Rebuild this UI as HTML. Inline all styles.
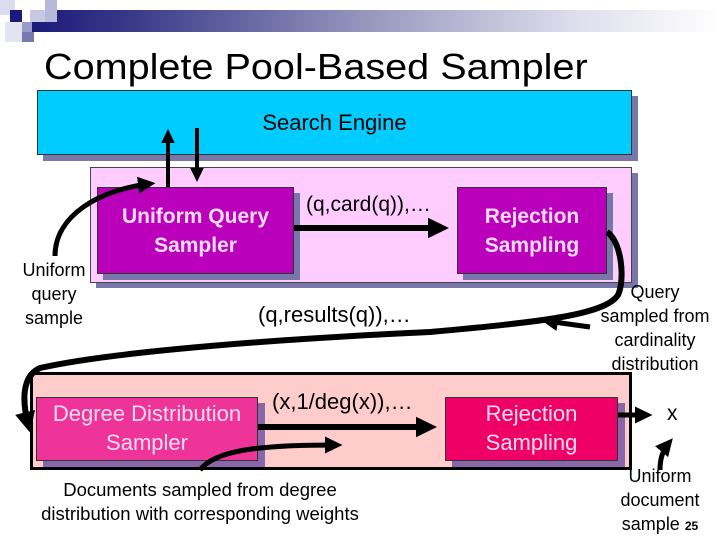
<!DOCTYPE html>
<html><head><meta charset="utf-8"><style>
body{margin:0;width:720px;height:540px;overflow:hidden;background:#fff;font-family:"Liberation Sans",sans-serif;position:relative}
.a{position:absolute}
.t{position:absolute;text-align:center;white-space:nowrap}
</style></head><body>
<div class="a" style="left:30px;top:10px;width:690px;height:22px;background:linear-gradient(90deg,#1a1a7a 0%,#3a3a8a 15%,#9a9ac0 50%,#e0e0ee 80%,#fff 100%)"></div>
<div class="a" style="left:0;top:0;width:15px;height:15px;background:#dcdcee"></div>
<div class="a" style="left:10px;top:10px;width:12px;height:12px;background:#1a1a7a"></div>
<div class="a" style="left:30px;top:10px;width:15px;height:12px;background:#c8c8e4"></div>
<div class="a" style="left:45px;top:0;width:12px;height:22px;background:#b8b8d8"></div>
<div class="a" style="left:22px;top:22px;width:10px;height:12px;background:#9a9ac8"></div>
<div class="a" style="left:5px;top:22px;width:17px;height:20px;background:#e4e4f0"></div>
<div class="a" style="left:22px;top:32px;width:12px;height:10px;background:#7878b0"></div>
<div class="t" style="left:44px;top:46px;font-size:36px;transform:scaleX(1.1);transform-origin:left">Complete Pool-Based Sampler</div>

<div class="a" style="left:43px;top:96px;width:595px;height:65px;background:#7777aa"></div>
<div class="a" style="left:37px;top:90px;width:593px;height:63px;background:#00ccff;border:1px solid #333"></div>
<div class="t" style="left:37px;top:110px;width:595px;font-size:22px">Search Engine</div>

<div class="a" style="left:96px;top:173px;width:542px;height:115px;background:#7777aa"></div>
<div class="a" style="left:90px;top:167px;width:540px;height:114px;background:#ffccff;border:1px solid #444"></div>
<div class="a" style="left:103px;top:193px;width:197px;height:87px;background:#7777aa"></div>
<div class="a" style="left:97px;top:187px;width:195px;height:85px;background:#bb00bb;border:1px solid #333"></div>
<div class="t" style="left:97px;top:202px;width:197px;font-size:21px;font-weight:bold;color:#ffddff;line-height:29px">Uniform Query<br>Sampler</div>
<div class="a" style="left:463px;top:193px;width:150px;height:87px;background:#7777aa"></div>
<div class="a" style="left:457px;top:187px;width:148px;height:85px;background:#bb00bb;border:1px solid #333"></div>
<div class="t" style="left:457px;top:202px;width:150px;font-size:21px;font-weight:bold;color:#ffddff;line-height:29px">Rejection<br>Sampling</div>
<div class="t" style="left:306px;top:193px;font-size:21px">(q,card(q)),…</div>

<div class="t" style="left:14px;top:258px;width:80px;font-size:18px;line-height:24px">Uniform<br>query<br>sample</div>
<div class="t" style="left:258px;top:302px;font-size:22px">(q,results(q)),…</div>
<div class="t" style="left:592px;top:280px;width:126px;font-size:18px;line-height:24px">Query<br>sampled from<br>cardinality<br>distribution</div>

<div class="a" style="left:30px;top:372px;width:596px;height:92px;background:#ffcccc;border:3px solid #000"></div>
<div class="a" style="left:43px;top:403px;width:222px;height:64px;background:#8866aa"></div>
<div class="a" style="left:36px;top:397px;width:220px;height:62px;background:#ee3399;border:1px solid #333"></div>
<div class="t" style="left:36px;top:399px;width:222px;font-size:22px;color:#ffddee;line-height:29px">Degree Distribution<br>Sampler</div>
<div class="a" style="left:452px;top:403px;width:173px;height:64px;background:#8866aa"></div>
<div class="a" style="left:445px;top:397px;width:171px;height:62px;background:#ee0066;border:1px solid #333"></div>
<div class="t" style="left:445px;top:399px;width:173px;font-size:22px;color:#ffddee;line-height:29px">Rejection<br>Sampling</div>
<div class="t" style="left:272px;top:389px;font-size:22px">(x,1/deg(x)),…</div>
<div class="t" style="left:667px;top:402px;font-size:21px">x</div>
<div class="t" style="left:20px;top:478px;width:360px;font-size:18.5px;line-height:24px">Documents sampled from degree<br>distribution with corresponding weights</div>
<div class="t" style="left:608px;top:464px;width:104px;font-size:18px;line-height:24px">Uniform<br>document<br>sample <b style="font-size:12px">25</b></div>

<svg class="a" style="left:0;top:0" width="720" height="540">
<defs><marker id="h" markerWidth="4" markerHeight="4" refX="2" refY="2" orient="auto" markerUnits="strokeWidth"><path d="M0,0.3 L3.5,2 L0,3.7z" fill="#000"/></marker></defs>
<g stroke="#000" fill="none" stroke-width="5">
<line x1="168" y1="187" x2="168" y2="135" marker-end="url(#h)" stroke-width="4"/>
<line x1="197" y1="128" x2="197" y2="176" marker-end="url(#h)" stroke-width="4"/>
<line x1="294" y1="228" x2="440" y2="228" marker-end="url(#h)" stroke-width="6"/>
<line x1="258" y1="427" x2="428" y2="427" marker-end="url(#h)" stroke-width="6"/>
<line x1="618" y1="415" x2="645" y2="415" marker-end="url(#h)" stroke-width="5"/>
<path d="M55,256 C55,215 100,190 148,184" marker-end="url(#h)"/>
<path d="M607,232 C622,242 625,280 618,295 C605,315 540,322 430,332 C300,338 120,350 40,368 C22,376 22,400 28,424" stroke-width="6" marker-end="url(#h)"/>
<path d="M590,327 C575,325 560,323 548,321" marker-end="url(#h)"/>
<path d="M200,470 C215,450 260,445 335,445" marker-end="url(#h)"/>
<path d="M660,470 C660,458 663,450 668,444" marker-end="url(#h)"/>
</g></svg>
</body></html>
